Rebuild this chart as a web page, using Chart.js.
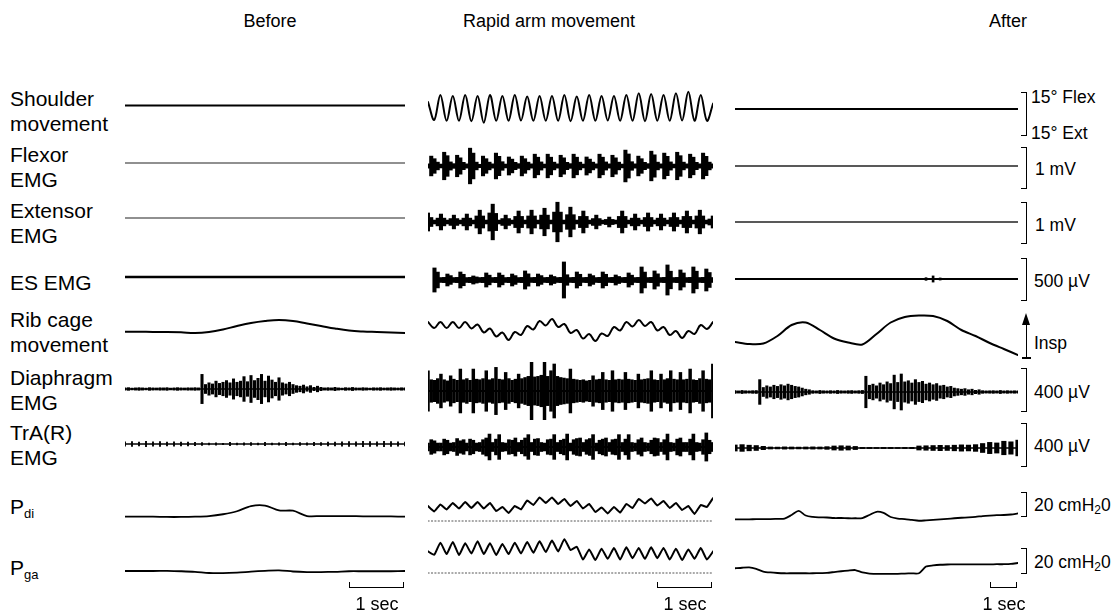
<!DOCTYPE html>
<html>
<head>
<meta charset="utf-8">
<script src="https://cdn.jsdelivr.net/npm/chart.js@4.4.1/dist/chart.umd.min.js"></script>
<style>
html,body{margin:0;padding:0;background:#fff;}
#fig{position:relative;width:1116px;height:612px;overflow:hidden;font-family:"Liberation Sans",Arial,sans-serif;color:#000;}
.lbl{position:absolute;left:10px;font-size:21px;line-height:25px;white-space:nowrap;}
.lbl sub{font-size:13px;vertical-align:-4px;}
.ttl{position:absolute;font-size:18px;line-height:22px;white-space:nowrap;transform:translateX(-50%);}
.unit{position:absolute;font-size:17.5px;line-height:20px;white-space:nowrap;}
.unit sub{font-size:12px;vertical-align:-3px;}
.brk{position:absolute;left:1021px;width:5px;border:1.5px solid #000;border-left:none;}
.sec{position:absolute;border:1.5px solid #000;border-top:none;}
</style>
</head>
<body>
<div id="fig"></div>
<script>
// ---- data ----
const PHASES = ['Before', 'Rapid arm movement', 'After'];

// time bases (s)
const BEFORE_DUR = 5.0, RAPID_DUR = 5.09, AFTER_DUR = 10.1;
const WAVE_DT = 0.1107;        // rapid: one sample per half arm cycle
const BIN_DT = 0.0578;         // rapid EMG envelope bins
const BEFORE_SLOW_DT = 0.25, AFTER_SLOW_DT = 0.505, AFTER_P_DT = 0.2525;
const BEFORE_DIA_DT = 0.0625, AFTER_DIA_DT = 0.12625, BEFORE_TRA_DT = 0.125, AFTER_EMG_DT = 0.2525;
const ES_RAPID_START = 0.143;
const flatTrace = [0, 0];

// shoulder angle (deg, + = flex)
const shoulderRapid = [4,-8,8.7,-8.5,8,-8.5,8.7,-8.8,8,-9.8,8.7,-8.5,8,-8.5,8.7,-8.3,7.6,-8.5,8,-8.5,8,-8.5,8.7,-8.8,
  7.6,-8.5,8.7,-8.5,8,-8.3,8,-8.5,8.7,-8.5,9.8,-8.8,9.3,-8.5,8.7,-8.5,9.8,-8.3,10.9,-8.5,8.7,-8.5,3];

// EMG envelopes (µV, half peak-to-peak)
const flexorRapid = [50,230,170,90, 45,320,240,95, 55,250,190,85, 50,415,300,90, 40,230,170,90, 50,300,225,100,
  45,210,160,85, 55,230,170,90, 50,275,205,95, 45,275,205,90, 50,250,190,85, 55,275,205,90, 45,210,160,90,
  50,275,205,95, 50,250,190,90, 45,370,280,100, 50,230,170,85, 55,345,260,90, 50,300,225,95, 45,320,240,90,
  50,275,205,85, 50,300,225,90, 50];
const extensorRapid = [210,105,45,90, 185,90,45,80, 160,80,45,90, 185,90,45,140, 275,140,45,210, 415,200,45,80,
  160,80,45,130, 255,130,45,140, 275,140,45,160, 320,160,45,230, 460,230,45,170, 345,170,45,130,
  255,130,45,80, 160,80,45,60, 115,60,45,130, 255,130,45,90, 185,90,45,105, 210,105,45,90,
  185,90,45,105, 210,105,45,130, 255,130,45,140, 275,140,45,70, 140];
const esRapid = [null,null,137,90, 28,30,68,50, 28,30,91,65, 28,30,46,35, 28,30,80,55, 28,30,80,55,
  28,30,68,50, 28,30,103,70, 28,30,68,50, 28,30,57,40, 28,30,205,60, 28,30,91,65, 28,30,68,50,
  28,30,91,65, 28,30,57,40, 28,30,80,55, 28,30,148,90, 28,30,103,70, 28,30,171,100, 28,30,114,80,
  28,30,148,100, 28,30,125,85, 28];
const esAfter = [6,6,5,6,6,5,6,6,5,6, 6,5,6,6,5,6,6,5,6,6, 5,6,6,5,6,6,5,15,35,12, 6,5,6,6,5,6,6,5,6,6, 5];
const diaBefore = [10,12,8,10,12,10,8,12,10,9,11,10,12,8,10,12,10,9,11,10,12,10,
  130,40,55,45,70,50,60,75,55,90,60,70,110,65,120,75,95,130,70,115,80,60,100,55,45,60,40,30,25,35,20,30,15,25,15,
  10,12,10,15,10,8,12,10,14,10,9,12,10,8,11,10,12,9,10,12,10,9,11,10];
const diaRapid = [180,100,95,110,150,100,90,135,105,95, 195,100,110,95,195,105,100,110,180,100,
  110,210,105,100,165,110,95,105,150,110, 120,130,255,125,130,140,255,130,180,240,
  130,120,115,110,195,105,100,95,100,90, 95,135,100,105,165,100,95,180,100,105,
  100,165,105,100,95,150,100,105,110,180, 100,95,150,100,110,180,105,100,165,100,
  105,195,100,95,110,180,105,100,240];
const diaAfter = [12,10,14,11,10,12,13,
  110,40,55,45,60,50,65,55,70,60,50,45,35,25,20,
  12,10,14,11,10,12,10,14,11,10,12,13,10,12,14,
  140,60,70,55,80,65,90,75,150,85,160,90,100,80,110,85,95,70,80,65,75,55,60,45,50,35,30,25,30,20,25,15,20,
  12,10,11,12,10,14,10,12,10,11,10];
const traBefore = [20,22,18,24,20,22,18,20,16,18,14,12, 8,10,6,14,8,10,12,8,14,8,10,14,8,12,10,14,12,
  16,18,20,22,20,24,22,20,24,22,20,18];
const traRapid = [35,65,55,35, 35,70,60,35, 40,75,55,65, 35,70,60,35, 40,65,80,115, 40,70,110,40,
  35,65,60,80, 40,60,80,110, 40,70,75,40, 35,65,70,110, 40,60,70,115, 35,65,75,80,
  40,65,75,110, 35,60,70,80, 40,65,70,110, 40,70,110,40, 35,65,80,40, 35,60,80,75,
  40,65,115,40, 35,70,80,40, 40,70,115,40, 35,65,125,60, 40];
const traAfter = [27,30,25,22,15, 9,8,10,9,8,9,10,9,12, 18,20,18,14, 5,5,4,5,5,4,5,6,
  18,20,22,24,22,25,28,26,30, 40,50,45,60,55,70];

// rib cage movement (a.u., up = inspiration)
const ribBefore = [26.3,26.3,26,26,25.7,25,26,28.5,32,35,37,38,37,34.5,32,29.5,27.5,26.5,26,25.5,25];
const ribRapid = [36,30,36,30,36,30,36, 29.5,33.5,25.5,29.5,21.5,25.5,18, 26,23,32,28.5,37,32.5,39,
  31,34,25,28,19.5,24,17, 24.5,22,31,27.5,36,31.5,38, 32,36,27.5,31,23,27,20, 27,24,33,29,36];
const ribAfter = [16,14,14.5,22,33,35.5,28,19.5,15.5,13.5,24,35.5,41,42.5,42,37,28,22,15,9,3];

// pressures (cmH2O)
const pdiBefore = [3.3,3.3,3.3,3.1,3.1,3.3,3.8,5.2,7.5,11.5,11.9,8.1,7.9,3.8,3.8,3.8,3.8,3.6,3.6,3.5,3.3];
const pdiRapid = [11.5,7.3,12.7,8.9,13.8,9.6,14.6,10,14.6,9.6,13.8,7.7,10.8,6.2,11.5,8.9,15.8,12.3,18.1,13.9,
  18.1,13.1,16.9,11.5,15.4,9.6,13.1,6.9,10.4,5.8,10.8,6.5,13.1,10,16.9,13.5,17.3,11.9,15.4,10,
  13.8,8.5,11.5,5.4,12.3,10.8,17.7];
const pdiAfter = [1.3,1.3,1.3,1.4,1.5,1.5,1.7,1.9,4.6,7.8,4.2,3.1,2.8,2.7,2.3,2.3,2.1,2.1,2.3,4.6,
  7.1,6.2,3.1,1.9,1.5,0.8,0.2,0.5,0.9,1.3,1.7,2.1,2.5,2.8,3.2,3.8,4.2,4.5,4.6,5,5.8];
const pgaBefore = [1.5,1.5,1.5,1.5,1.3,0.9,0,-0.1,0.3,1,1.6,2,1.1,0.7,0.7,0.9,1.3,1.3,1.3,1.3,1.5];
const pgaRapid = [16,13.5,22.5,14,23,13.3,22,14.5,23.5,14,22,13.3,21.5,14,22.5,14.5,23,15,23.5,15.5,
  24,16,25,17,19.5,10,17.5,9.6,18,10.5,18.5,10,19,11,18.5,10.5,19,11,18.5,10,18,9.6,17.5,10.5,18.5,10,16];
const pgaAfter = [3.5,3.9,4.1,3,1.1,0.4,0,-0.2,-0.2,-0.2,-0.2,-0.2,-0.1,0.1,0.7,1.3,1.8,2.2,0.4,-0.4,
  -0.6,-0.7,-0.7,-0.6,-0.4,-0.3,-0.2,4.8,5.6,6.1,6.3,6.4,6.4,6.4,6.4,6.4,6.4,6.5,6.5,6.7,7.4];

// ---- layout ----
const COLS = [
  {left:125, w:280, dur:BEFORE_DUR, ttlX:270},
  {left:428, w:285, dur:RAPID_DUR, ttlX:549},
  {left:735, w:283, dur:AFTER_DUR, ttlX:1008}
];
// zero = pixel of the value 0 in each column, ppu = pixels per unit
const ROWS = {
  shoulder:{top:84, h:48, zero:[105.5,108,109], ppu:1.5},
  flexor:  {top:140, h:52, zero:[163,166,166], ppu:0.043},
  extensor:{top:196, h:52, zero:[218,222,222], ppu:0.043},
  es:      {top:254, h:52, zero:[277,280,279], ppu:0.088},
  rib:     {top:308, h:56, zero:[358,358,358], ppu:1},
  dia:     {top:360, h:62, zero:[389,391,392], ppu:0.1125},
  tra:     {top:422, h:50, zero:[444,447,448], ppu:0.1125},
  pdi:     {top:488, h:40, zero:[521,521,521], ppu:1.3},
  pga:     {top:536, h:44, zero:[573,573,573], ppu:1.35}
};

const fig = document.getElementById('fig');

function pts(vals, dt, t0=0){
  return vals.map((v,i)=>({x:t0+i*dt, y:v}));
}
function line(vals, dt, w, o={}){
  return {type:'line', data:pts(vals, dt, o.t0||0), borderColor:o.color||'#000', borderWidth:w,
    borderDash:o.dash||[], pointRadius:0, tension:o.tension||0, borderJoinStyle:'round',
    borderCapStyle:'round', clip:false, order:0};
}
function flat(dur, w, o={}){ return line(flatTrace, dur-(o.t0||0), w, o); }
function emg(vals, dt, thick, t0=0){
  const data = vals.map((a,i)=>a==null?null:{x:t0+i*dt, y:[-a,a]}).filter(Boolean);
  return {type:'bar', data, backgroundColor:'#000', borderWidth:0, barThickness:thick,
    grouped:false, clip:false, order:1};
}
function dotted(dur){ return flat(dur, 1, {color:'#555', dash:[1.2,2.2]}); }

function cell(rowKey, ci, datasets){
  const r = ROWS[rowKey], c = COLS[ci], z = r.zero[ci];
  const cv = document.createElement('canvas');
  cv.width = c.w; cv.height = r.h;
  cv.style.cssText = `position:absolute;left:${c.left}px;top:${r.top}px;width:${c.w}px;height:${r.h}px`;
  fig.appendChild(cv);
  new Chart(cv, {
    type:'line',
    data:{datasets},
    options:{
      responsive:false, animation:false, devicePixelRatio:1, events:[],
      layout:{padding:0},
      plugins:{legend:{display:false}, tooltip:{enabled:false}},
      scales:{
        x:{type:'linear', min:0, max:c.dur, offset:false, display:false},
        y:{type:'linear', min:-(r.top+r.h-z)/r.ppu, max:(z-r.top)/r.ppu, display:false}
      }
    }
  });
}

// Before
cell('shoulder',0,[flat(BEFORE_DUR,2.2)]);
cell('flexor',0,[flat(BEFORE_DUR,1.2,{color:'#222'})]);
cell('extensor',0,[flat(BEFORE_DUR,1.2,{color:'#222'})]);
cell('es',0,[flat(BEFORE_DUR,2.6)]);
cell('rib',0,[line(ribBefore,BEFORE_SLOW_DT,2,{tension:0.4})]);
cell('dia',0,[flat(BEFORE_DUR,1.5), emg(diaBefore,BEFORE_DIA_DT,2.4)]);
cell('tra',0,[flat(BEFORE_DUR,1.5), emg(traBefore,BEFORE_TRA_DT,1.2)]);
cell('pdi',0,[line(pdiBefore,BEFORE_SLOW_DT,1.8,{tension:0.3})]);
cell('pga',0,[line(pgaBefore,BEFORE_SLOW_DT,1.8,{tension:0.3})]);

// Rapid arm movement
cell('shoulder',1,[line(shoulderRapid,WAVE_DT,2,{tension:0.35})]);
cell('flexor',1,[flat(RAPID_DUR,2.5), emg(flexorRapid,BIN_DT,3.4)]);
cell('extensor',1,[flat(RAPID_DUR,2.5), emg(extensorRapid,BIN_DT,3.4)]);
cell('es',1,[flat(RAPID_DUR,3,{t0:ES_RAPID_START}), emg(esRapid,BIN_DT,3.4)]);
cell('rib',1,[line(ribRapid,WAVE_DT,2,{tension:0.4})]);
cell('dia',1,[flat(RAPID_DUR,2), emg(diaRapid,BIN_DT,2.8)]);
cell('tra',1,[flat(RAPID_DUR,2), emg(traRapid,BIN_DT,3.0)]);
cell('pdi',1,[dotted(RAPID_DUR), line(pdiRapid,WAVE_DT,2,{tension:0.1})]);
cell('pga',1,[dotted(RAPID_DUR), line(pgaRapid,WAVE_DT,2,{tension:0.15})]);

// After
cell('shoulder',2,[flat(AFTER_DUR,2.2)]);
cell('flexor',2,[flat(AFTER_DUR,1.5,{color:'#222'})]);
cell('extensor',2,[flat(AFTER_DUR,1.5,{color:'#222'})]);
cell('es',2,[flat(AFTER_DUR,1.8), emg(esAfter,AFTER_EMG_DT,2)]);
cell('rib',2,[line(ribAfter,AFTER_SLOW_DT,2,{tension:0.3})]);
cell('dia',2,[flat(AFTER_DUR,1.5), emg(diaAfter,AFTER_DIA_DT,2.4)]);
cell('tra',2,[flat(AFTER_DUR,1.5), emg(traAfter,AFTER_EMG_DT,4.5)]);
cell('pdi',2,[line(pdiAfter,AFTER_P_DT,1.8,{tension:0.3})]);
cell('pga',2,[line(pgaAfter,AFTER_P_DT,1.8,{tension:0.2})]);

// ---- text and scale marks ----
function add(cls, html, css){
  const d = document.createElement('div');
  d.className = cls; d.innerHTML = html; d.style.cssText = css;
  fig.appendChild(d); return d;
}
PHASES.forEach((t,i)=>add('ttl', t, `left:${COLS[i].ttlX}px;top:10px`));

const LEFT_LABELS = [
  [['Shoulder','movement'],98], [['Flexor','EMG'],154], [['Extensor','EMG'],210], [['ES EMG'],282],
  [['Rib cage','movement'],319], [['Diaphragm','EMG'],377], [['TrA(R)','EMG'],432],
  [['P<sub>di</sub>'],506], [['P<sub>ga</sub>'],567]
];
LEFT_LABELS.forEach(([lines,y])=>add('lbl', lines.join('<br>'), `top:${y-12.5}px`));

const UNITS = [
  ['15° Flex',1031,97], ['15° Ext',1031,133], ['1 mV',1035,169], ['1 mV',1035,225], ['500 µV',1034,281],
  ['Insp',1034,343], ['400 µV',1034,392], ['400 µV',1034,446],
  ['20 cmH<sub>2</sub>0',1034,505], ['20 cmH<sub>2</sub>0',1034,562]
];
UNITS.forEach(([t,x,y])=>add('unit', t, `left:${x}px;top:${y-10}px`));

const BRACKETS = [[92,137],[147,190],[202,245],[258,302],[368,413],[423,468],[492,518],[548,575]];
BRACKETS.forEach(([a,b])=>add('brk','',`top:${a}px;height:${b-a-3}px`));

// inspiration arrow
add('', '', 'position:absolute;left:1025.5px;top:323px;width:1.5px;height:35px;background:#000');
add('', '', 'position:absolute;left:1021.5px;top:313px;width:0;height:0;border-left:4.75px solid transparent;border-right:4.75px solid transparent;border-bottom:12px solid #000');
add('', '', 'position:absolute;left:1022px;top:357px;width:9px;height:1.5px;background:#000');

// 1 sec bars
COLS.forEach(c=>{
  const pps = c.w/c.dur, x = c.left + c.w - pps;
  add('sec','',`left:${x}px;top:582px;width:${pps-3}px;height:5px`);
  add('unit','1 sec',`left:${x+pps/2}px;top:594px;transform:translateX(-50%);font-size:18px`);
});
</script>
</body>
</html>
